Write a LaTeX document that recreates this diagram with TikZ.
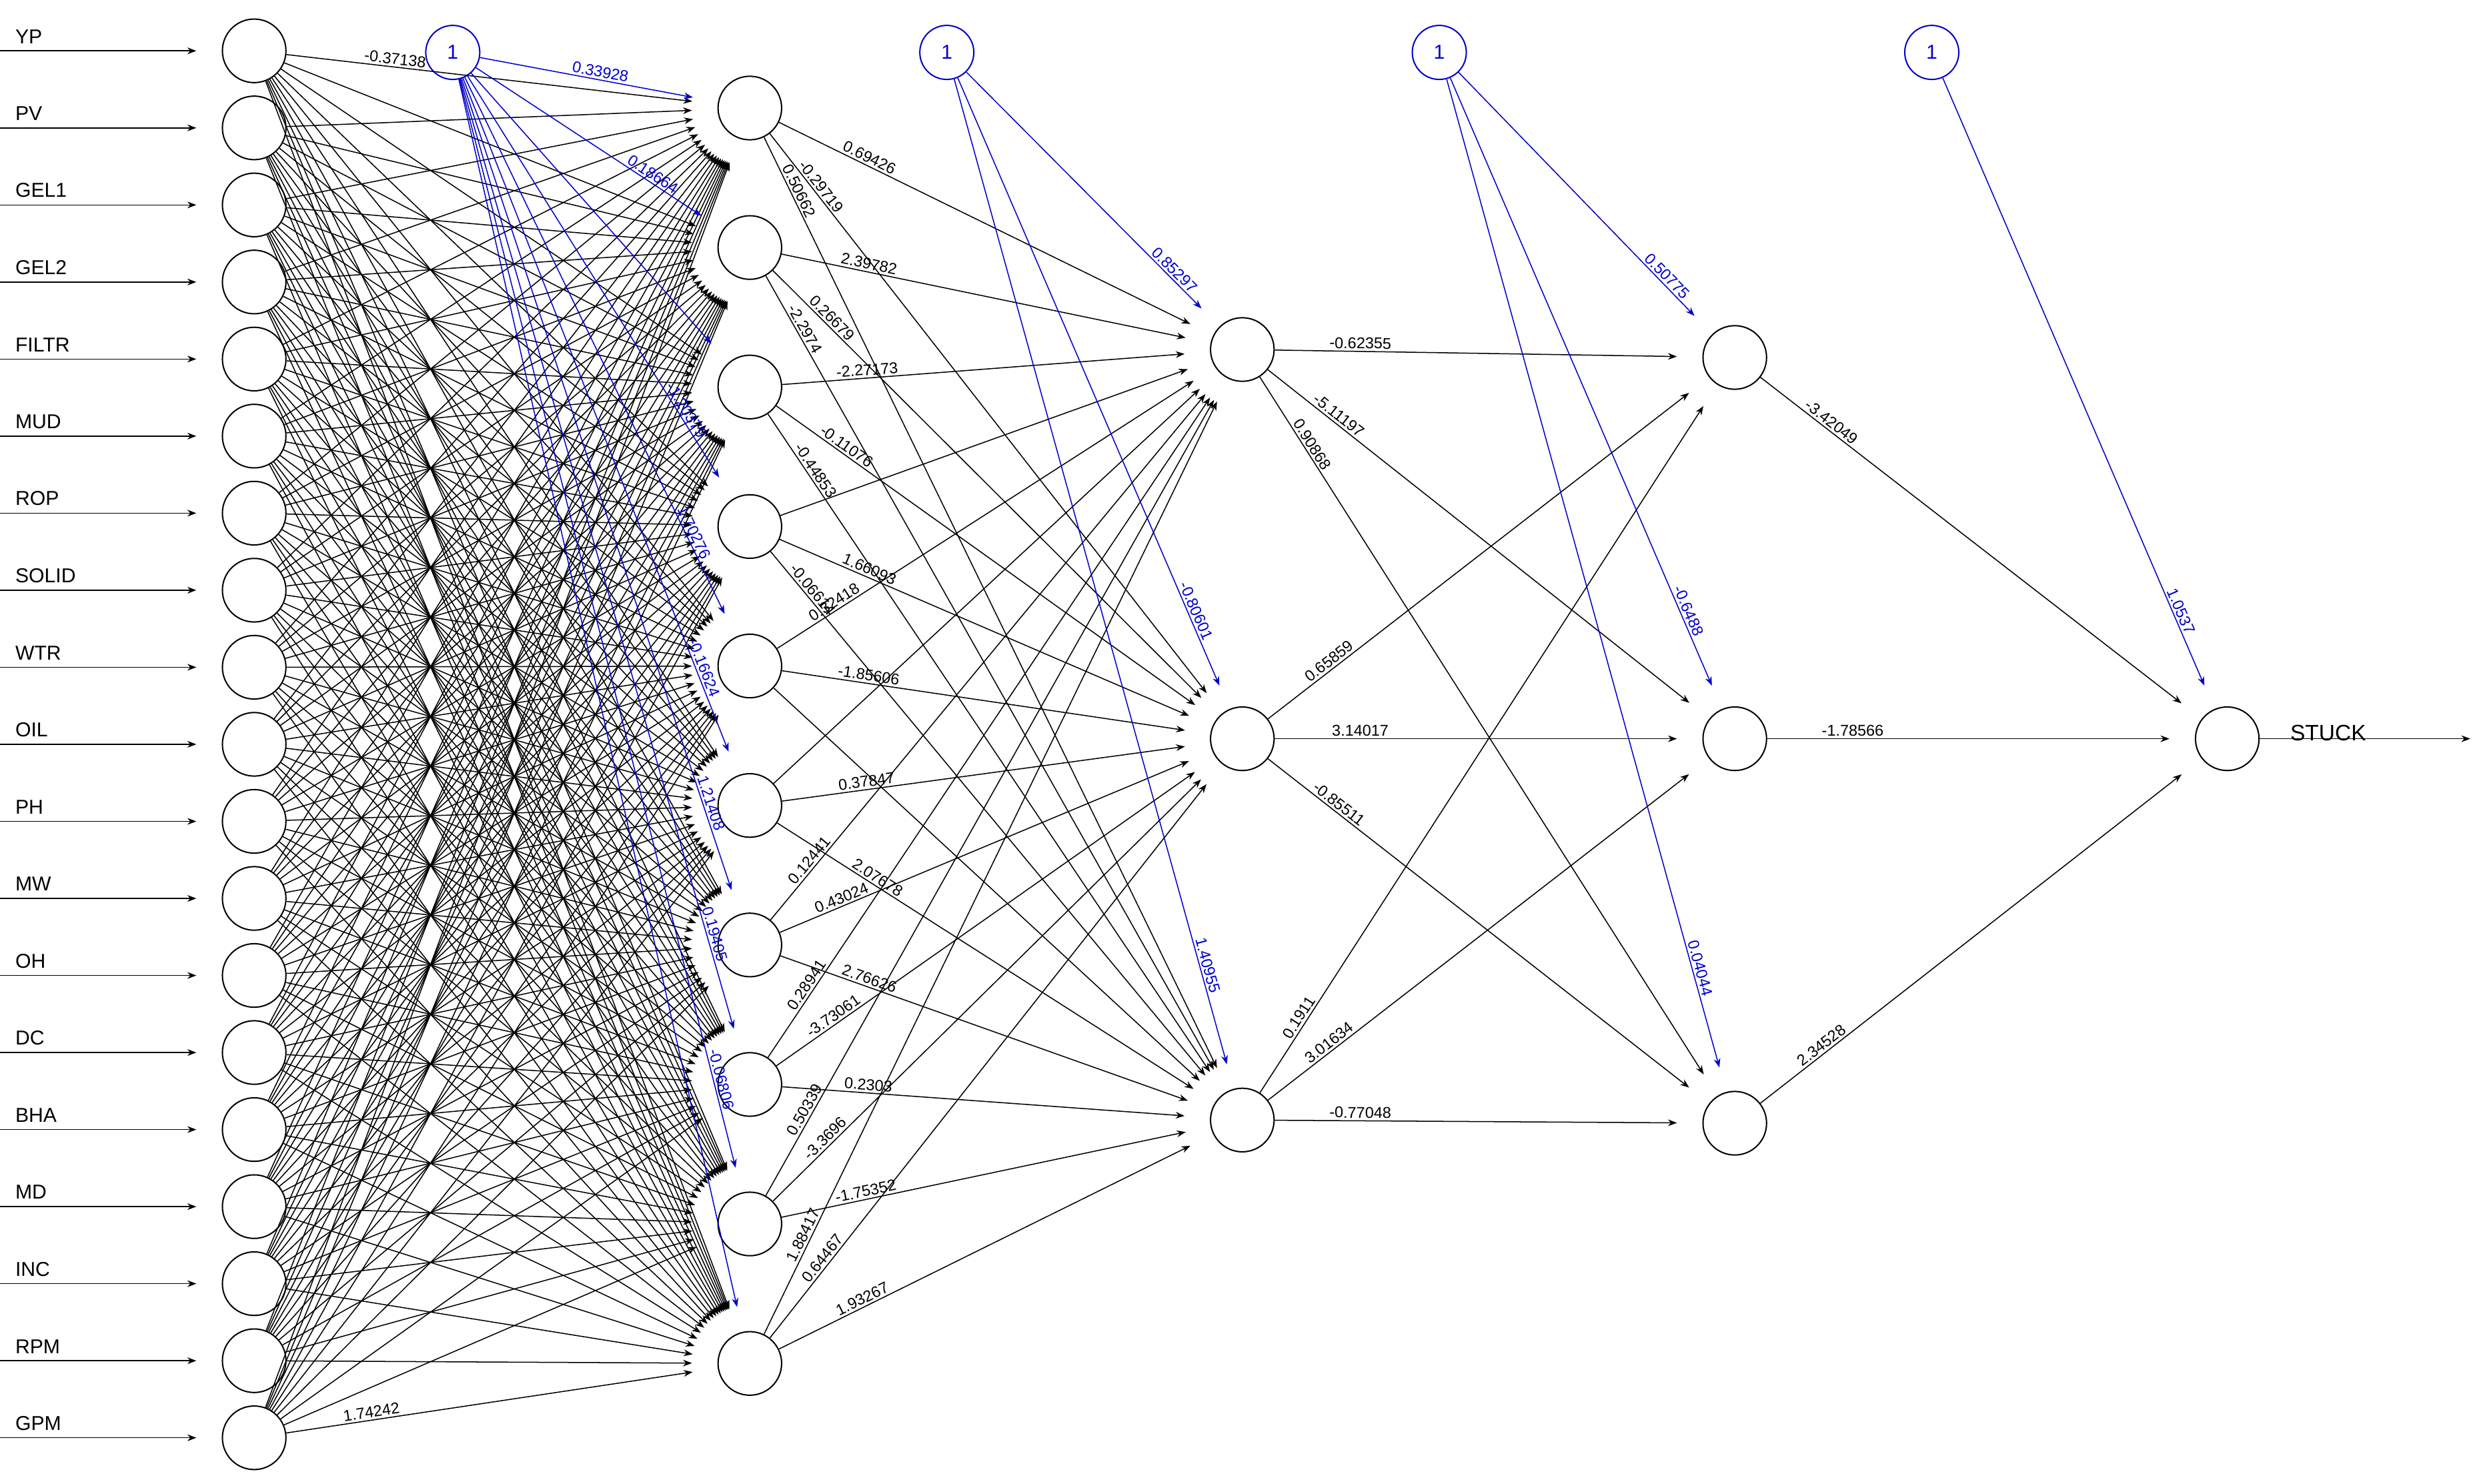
\documentclass[tikz,border=0pt]{standalone}
\usepackage{fontspec}
\setmainfont{Liberation Sans}
\usetikzlibrary{arrows.meta}
\begin{document}
\begin{tikzpicture}[x=0.025cm,y=-0.025cm,
  neu/.style={circle,draw,line width=0.6pt,minimum size=1cm,inner sep=0pt},
  bia/.style={circle,draw=blue!80!black,text=blue!80!black,line width=0.6pt,minimum size=0.85cm,inner sep=0pt,font=\fontsize{9}{10}\selectfont},
  con/.style={line width=0.45pt,-{Stealth[length=4pt,width=3pt]},shorten >=0.4cm},
  bcon/.style={con,draw=blue!80!black},
  wl/.style={font=\fontsize{7}{8}\selectfont,sloped,above,inner sep=1pt},
  bwl/.style={wl,text=blue!80!black},
  lab/.style={font=\fontsize{9}{10}\selectfont,anchor=south west,inner sep=1pt}]
\useasboundingbox (0,0) rectangle (1563,934);
% input layer
\foreach \t [count=\i] in {YP,PV,GEL1,GEL2,FILTR,MUD,ROP,SOLID,WTR,OIL,PH,MW,OH,DC,BHA,MD,INC,RPM,GPM}{
  \pgfmathsetmacro\yy{32+(\i-1)*48.5}
  \node[neu] (i\i) at (160,\yy) {};
  \coordinate (s\i) at (0,\yy);
  \node[lab] (t\i) at (8,\yy-3) {\t};
  \draw[con,shorten >=0.4cm] (s\i) -- (i\i);
}
% hidden 1
\foreach \j in {1,...,10}{
  \pgfmathsetmacro\yy{68+(\j-1)*87.8}
  \node[neu] (h\j) at (472,\yy) {};
}
\node[neu] (g1) at (782,220) {};
\node[neu] (g2) at (782,465) {};
\node[neu] (g3) at (782,705) {};
\node[neu] (k1) at (1092,225) {};
\node[neu] (k2) at (1092,465) {};
\node[neu] (k3) at (1092,707) {};
\node[neu] (o) at (1402,465) {};
\node[bia] (b1) at (285,33) {1};
\node[bia] (b2) at (596,33) {1};
\node[bia] (b3) at (906,33) {1};
\node[bia] (b4) at (1216,33) {1};
\node[lab,anchor=south west,font=\fontsize{10}{11}\selectfont] (st) at (1440,468) {STUCK};
\coordinate (oe) at (1555,465);
\draw[con,shorten >=0pt] (o) -- (oe);
% connections
\foreach \i in {1,...,19}\foreach \j in {1,...,10}{\draw[con] (i\i) -- (h\j);}
\foreach \j in {1,...,10}{\draw[bcon] (b1) -- (h\j);}
\foreach \j in {1,...,10}\foreach \k in {1,2,3}{\draw[con] (h\j) -- (g\k);}
\foreach \k in {1,2,3}{\draw[bcon] (b2) -- (g\k);}
\foreach \k in {1,2,3}\foreach \m in {1,2,3}{\draw[con] (g\k) -- (k\m);}
\foreach \m in {1,2,3}{\draw[bcon] (b3) -- (k\m);}
\foreach \m in {1,2,3}{\draw[con] (k\m) -- (o);}
\draw[bcon] (b4) -- (o);
% labels input
\path (i1) -- node[wl,pos=0.25]{-0.37138} (h1);
\path (i19) -- node[wl,pos=0.2]{1.74242} (h10);
% bias1 labels
\path (b1) -- node[bwl,pos=0.5]{0.33928} (h1);
\path (b1) -- node[bwl,pos=0.7]{0.18664} (h2);
\path (b1) -- node[bwl,pos=0.8]{-1.20379} (h4);
\path (b1) -- node[bwl,pos=0.82]{1.70276} (h5);
\path (b1) -- node[bwl,pos=0.85]{-0.16624} (h6);
\path (b1) -- node[bwl,pos=0.87]{1.21408} (h7);
\path (b1) -- node[bwl,pos=0.88]{0.19405} (h8);
\path (b1) -- node[bwl,pos=0.9]{-0.06806} (h9);
% hidden1 -> hidden2 labels
\path (h1) -- node[wl,pos=0.2]{0.69426} (g1);
\path (h1) -- node[wl,pos=0.1]{-0.29719} (g2);
\path (h1) -- node[wl,pos=0.06]{0.50662} (g3);
\path (h2) -- node[wl,pos=0.2]{2.39782} (g1);
\path (h2) -- node[wl,pos=0.12]{0.26679} (g2);
\path (h2) -- node[wl,pos=0.07]{-2.2974} (g3);
\path (h3) -- node[wl,pos=0.2]{-2.27173} (g1);
\path (h3) -- node[wl,pos=0.15]{-0.11076} (g2);
\path (h3) -- node[wl,pos=0.09]{-0.44853} (g3);
\path (h4) -- node[wl,pos=0.2]{1.66093} (g2);
\path (h4) -- node[wl,pos=0.08]{-0.06614} (g3);
\path (h5) -- node[wl,pos=0.2]{-1.85606} (g2);
\path (h5) -- node[wl,pos=0.14]{0.32418} (g1);
\path (h6) -- node[wl,pos=0.2]{0.37847} (g2);
\path (h6) -- node[wl,pos=0.22]{2.07678} (g3);
\path (h7) -- node[wl,pos=0.1]{0.12441} (g1);
\path (h7) -- node[wl,pos=0.15]{0.43024} (g2);
\path (h7) -- node[wl,pos=0.2]{2.76626} (g3);
\path (h8) -- node[wl,pos=0.1]{0.28941} (g1);
\path (h8) -- node[wl,pos=0.14]{-3.73061} (g2);
\path (h8) -- node[wl,pos=0.2]{0.2303} (g3);
\path (h9) -- node[wl,pos=0.1]{0.50339} (g1);
\path (h9) -- node[wl,pos=0.13]{-3.3696} (g2);
\path (h9) -- node[wl,pos=0.2]{-1.75352} (g3);
\path (h10) -- node[wl,pos=0.1]{1.88417} (g1);
\path (h10) -- node[wl,pos=0.13]{0.64467} (g2);
\path (h10) -- node[wl,pos=0.2]{1.93267} (g3);
% bias2 labels
\path (b2) -- node[bwl,pos=0.8]{0.85297} (g1);
\path (b2) -- node[bwl,pos=0.85]{-0.80601} (g2);
\path (b2) -- node[bwl,pos=0.88]{1.40955} (g3);
% hidden2 -> hidden3
\path (g1) -- node[wl,pos=0.2]{-0.62355} (k1);
\path (g1) -- node[wl,pos=0.15]{-5.11197} (k2);
\path (g1) -- node[wl,pos=0.1]{0.90868} (k3);
\path (g2) -- node[wl,pos=0.15]{0.65859} (k1);
\path (g2) -- node[wl,pos=0.2]{3.14017} (k2);
\path (g2) -- node[wl,pos=0.15]{-0.85511} (k3);
\path (g3) -- node[wl,pos=0.1]{0.1911} (k1);
\path (g3) -- node[wl,pos=0.15]{3.01634} (k2);
\path (g3) -- node[wl,pos=0.2]{-0.77048} (k3);
% bias3
\path (b3) -- node[bwl,pos=0.8]{0.50775} (k1);
\path (b3) -- node[bwl,pos=0.85]{-0.6488} (k2);
\path (b3) -- node[bwl,pos=0.88]{0.04044} (k3);
% hidden3 -> output
\path (k1) -- node[wl,pos=0.15]{-3.42049} (o);
\path (k2) -- node[wl,pos=0.2]{-1.78566} (o);
\path (k3) -- node[wl,pos=0.15]{2.34528} (o);
\path (b4) -- node[bwl,pos=0.85]{1.0537} (o);
\end{tikzpicture}
\end{document}
